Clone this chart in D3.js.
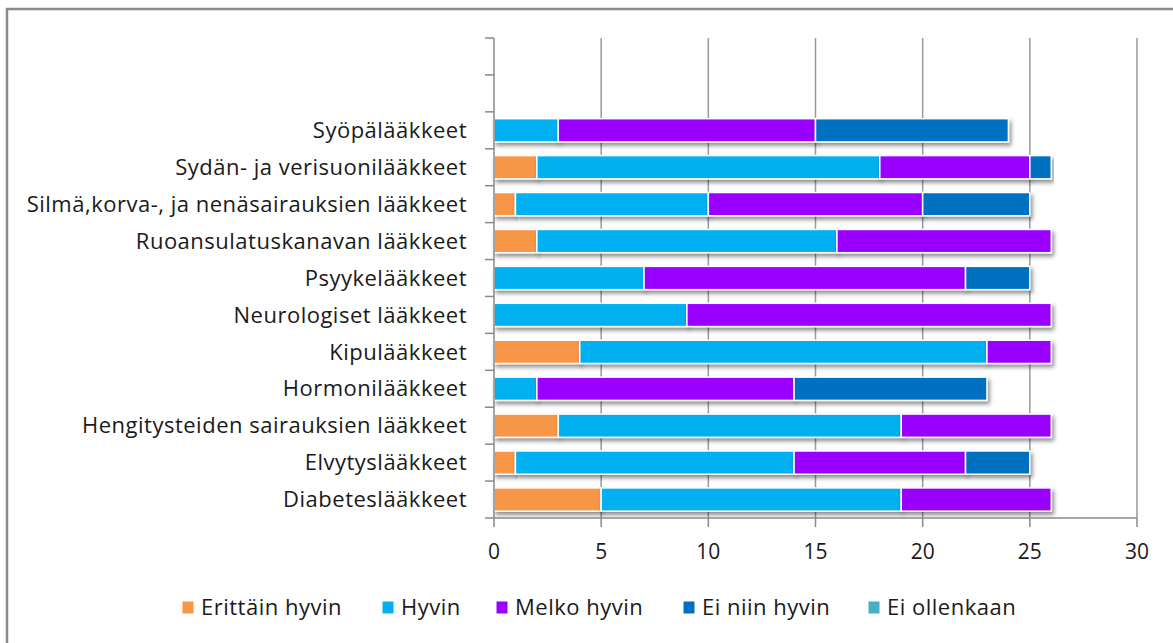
<!DOCTYPE html>
<html>
<head>
<meta charset="utf-8">
<script src="https://cdn.jsdelivr.net/npm/d3@7"></script>
<style>
  html, body { margin: 0; padding: 0; background: #fff; }
  svg { display: block; }
  text { font-family: "Open Sans", Lato, sans-serif; fill: #1a1a1a; }
</style>
</head>
<body>
<svg id="chart" width="1173" height="643"></svg>
<script>
// Categories, bottom to top
const categories = [
  "Diabeteslääkkeet",
  "Elvytyslääkkeet",
  "Hengitysteiden sairauksien lääkkeet",
  "Hormonilääkkeet",
  "Kipulääkkeet",
  "Neurologiset lääkkeet",
  "Psyykelääkkeet",
  "Ruoansulatuskanavan lääkkeet",
  "Silmä,korva-, ja nenäsairauksien lääkkeet",
  "Sydän- ja verisuonilääkkeet",
  "Syöpälääkkeet"
];
const emptySlots = ["", " "];

const seriesNames = ["Erittäin hyvin", "Hyvin", "Melko hyvin", "Ei niin hyvin", "Ei ollenkaan"];
const seriesColors = ["#F79646", "#00B0F0", "#9900FF", "#0070C0", "#4BACC6"];

const erittainHyvin = [5, 1, 3, 0, 4, 0, 0, 2, 1, 2, 0];
const hyvin         = [14, 13, 16, 2, 19, 9, 7, 14, 9, 16, 3];
const melkoHyvin    = [7, 8, 7, 12, 3, 17, 15, 10, 10, 7, 12];
const eiNiinHyvin   = [0, 3, 0, 9, 0, 0, 3, 0, 5, 1, 9];
const eiOllenkaan   = [0, 0, 0, 0, 0, 0, 0, 0, 0, 0, 0];

const xTicks = [0, 5, 10, 15, 20, 25, 30];

const seriesValues = [erittainHyvin, hyvin, melkoHyvin, eiNiinHyvin, eiOllenkaan];

const svg = d3.select("#chart");

// Outer frame
svg.append("rect")
  .attr("x", 7).attr("y", 9).attr("width", 1200).attr("height", 700)
  .attr("fill", "none").attr("stroke", "#8a8a8a").attr("stroke-width", 2.5);

const plot = { left: 494, right: 1137, top: 38, bottom: 518 };

const x = d3.scaleLinear().domain([0, 30]).range([plot.left, plot.right]);
const y = d3.scaleBand()
  .domain(categories.concat(emptySlots))
  .range([plot.bottom, plot.top])
  .paddingInner(0.37)
  .paddingOuter(0.185);

const defs = svg.append("defs");
const f = defs.append("filter").attr("id", "shadow")
  .attr("x", "-5%").attr("y", "-30%").attr("width", "115%").attr("height", "180%");
f.append("feDropShadow").attr("dx", 2).attr("dy", 3).attr("stdDeviation", 2)
  .attr("flood-color", "#000").attr("flood-opacity", 0.45);

// Vertical gridlines
svg.append("g").selectAll("line")
  .data(xTicks.slice(1))
  .join("line")
  .attr("x1", d => x(d)).attr("x2", d => x(d))
  .attr("y1", plot.top).attr("y2", plot.bottom)
  .attr("stroke", "#9a9a9a").attr("stroke-width", 1.5);

// Bars
const stackData = categories.map((c, i) => {
  const row = { cat: c };
  seriesNames.forEach((s, j) => row[s] = seriesValues[j][i]);
  return row;
});
const stacked = d3.stack().keys(seriesNames)(stackData);

const barsG = svg.append("g");
stacked.forEach((layer, j) => {
  barsG.append("g").selectAll("rect")
    .data(layer.filter(d => d[1] - d[0] > 0))
    .join("rect")
    .attr("x", d => x(d[0]))
    .attr("y", d => y(d.data.cat))
    .attr("width", d => x(d[1]) - x(d[0]))
    .attr("height", y.bandwidth())
    .attr("fill", seriesColors[j])
    .attr("stroke", "#fff")
    .attr("stroke-width", 1.5)
    .attr("filter", "url(#shadow)");
});

// Y axis line and ticks at band boundaries
const axisColor = "#8a8a8a";
svg.append("line")
  .attr("x1", plot.left).attr("x2", plot.left)
  .attr("y1", plot.top).attr("y2", plot.bottom)
  .attr("stroke", axisColor).attr("stroke-width", 1.5);
const yDomain = y.domain();
const boundaries = yDomain.map(d => y(d) - y.step() * y.paddingInner() / 2 + y.step())
  .concat([y(yDomain[yDomain.length - 1]) - y.step() * y.paddingInner() / 2]);
svg.append("g").selectAll("line")
  .data(boundaries)
  .join("line")
  .attr("x1", plot.left - 9).attr("x2", plot.left)
  .attr("y1", d => d).attr("y2", d => d)
  .attr("stroke", axisColor).attr("stroke-width", 1.5);

// Category labels
svg.append("g").selectAll("text")
  .data(categories)
  .join("text")
  .attr("x", 467)
  .attr("y", d => y(d) + y.bandwidth() / 2)
  .attr("dy", "0.35em")
  .attr("text-anchor", "end")
  .attr("font-size", 22)
  .attr("letter-spacing", 0.5)
  .text(d => d);

// X axis
svg.append("line")
  .attr("x1", plot.left).attr("x2", plot.right)
  .attr("y1", plot.bottom).attr("y2", plot.bottom)
  .attr("stroke", axisColor).attr("stroke-width", 1.5);
svg.append("g").selectAll("line")
  .data(xTicks)
  .join("line")
  .attr("x1", d => x(d)).attr("x2", d => x(d))
  .attr("y1", plot.bottom).attr("y2", plot.bottom + 9)
  .attr("stroke", axisColor).attr("stroke-width", 1.5);
svg.append("g").selectAll("text")
  .data(xTicks)
  .join("text")
  .attr("x", d => x(d))
  .attr("y", 559)
  .attr("text-anchor", "middle")
  .attr("font-size", 21)
  .text(d => d);

// Legend
const legendX = [182, 382, 496, 683, 868];
const lg = svg.append("g");
seriesNames.forEach((s, i) => {
  lg.append("rect")
    .attr("x", legendX[i]).attr("y", 601)
    .attr("width", 12).attr("height", 13)
    .attr("fill", seriesColors[i])
    .attr("stroke", "#fff").attr("stroke-width", 1);
  lg.append("text")
    .attr("x", legendX[i] + 19).attr("y", 615)
    .attr("font-size", 22)
    .attr("letter-spacing", 0.5)
    .text(s);
});
</script>
</body>
</html>
